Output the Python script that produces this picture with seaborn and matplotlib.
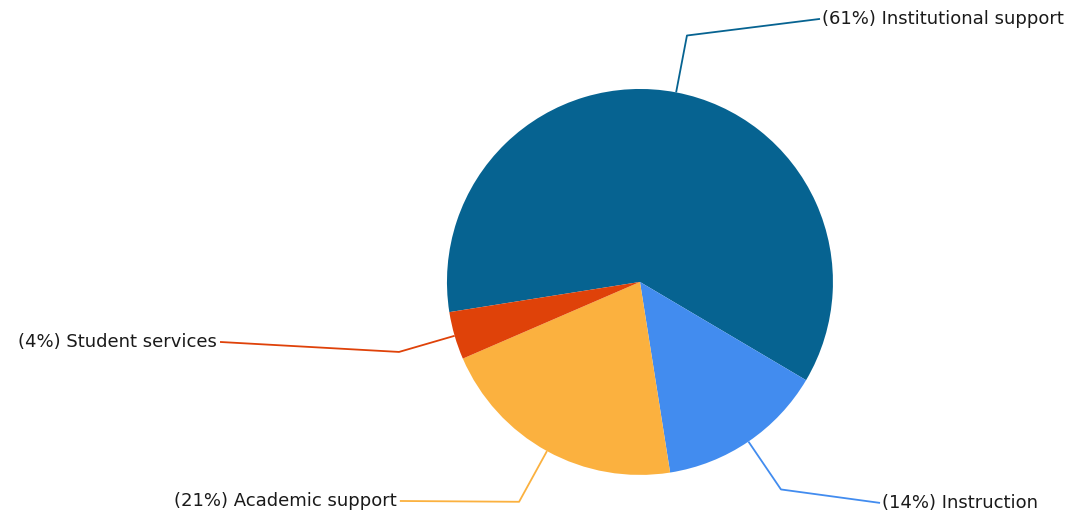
import numpy as np
import matplotlib
matplotlib.use("Agg")
import matplotlib.pyplot as plt
import seaborn as sns

# slice data, in drawing order (clockwise)
categories = ['Institutional support', 'Instruction', 'Academic support', 'Student services']
shares = [61, 14, 21, 4]
colors = ['#066391', '#428CEF', '#FBB13F', '#DF4209']

sns.set_theme(style='white')
plt.rcParams['font.family'] = ['DejaVu Sans']

fig = plt.figure(figsize=(10.68, 5.17), dpi=100)
ax = fig.add_axes([0, 0, 1, 1])

start = 189
wedges, _ = ax.pie(shares, colors=colors, startangle=start, counterclock=False,
                   radius=1.0, center=(0, 0), frame=False,
                   wedgeprops=dict(linewidth=0))

# label end points (where the leader line meets the text)
label_ends = [(0.933, 1.363), (1.244, -1.145), (-1.244, -1.135), (-2.176, -0.311)]

total = sum(shares)
for w, name, val, col, (ex, ey) in zip(wedges, categories, shares, colors, label_ends):
    mid = np.deg2rad((w.theta1 + w.theta2) / 2)
    x0, y0 = np.cos(mid), np.sin(mid)
    x1, y1 = 1.3 * x0, 1.3 * y0
    ax.plot([x0, x1, ex], [y0, y1, ey], color=col, lw=1.3, solid_capstyle='butt')
    pct = round(100 * val / total)
    if ex > 0:
        ax.text(ex + 0.01, ey, f'({pct}%) {name}', ha='left', va='center',
                fontsize=13, color='#1a1a1a')
    else:
        ax.text(ex - 0.015, ey, f'({pct}%) {name}', ha='right', va='center',
                fontsize=13, color='#1a1a1a')

ax.set_xlim(-3.316, 2.218)
ax.set_ylim(-1.218, 1.461)
ax.set_aspect('auto')
ax.axis('off')

fig.savefig('out.png', dpi=100)
